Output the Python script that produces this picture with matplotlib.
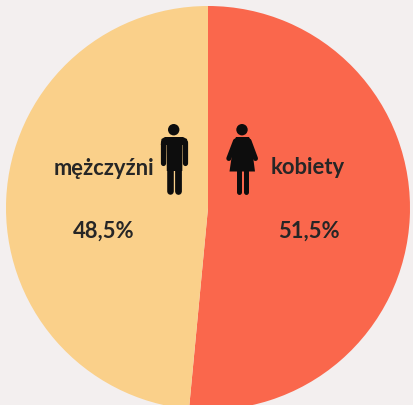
import matplotlib
matplotlib.use('Agg')
import matplotlib.pyplot as plt
from matplotlib.patches import Circle, Polygon

# Data
labels = ["kobiety", "mężczyźni"]
values = [51.5, 48.5]
value_labels = ["51,5%", "48,5%"]
colors = ["#FA674C", "#FAD08A"]

BG_COLOR = "#F3EFEF"
ICON = "#0D0D0D"
TEXT = "#262626"

W, H = 414, 406
plt.rcParams['font.family'] = ['Lato', 'DejaVu Sans']
fig = plt.figure(figsize=(W / 100, H / 100), dpi=100, facecolor=BG_COLOR)

# pie axes, sized in pixels
cx, cy, r = 208, 209, 202
ax = fig.add_axes([(cx - r) / W, 1 - (cy + r) / H, 2 * r / W, 2 * r / H])
ax.pie(values, colors=colors, startangle=90, counterclock=False, radius=1)
ax.set_xlim(-1, 1)
ax.set_ylim(-1, 1)

# overlay in pixel coordinates
ov = fig.add_axes([0, 0, 1, 1])
ov.set_xlim(0, W)
ov.set_ylim(H, 0)
ov.axis('off')

FS = 15.8
ov.text(103.5, 168.5, labels[1], ha='center', va='center', fontsize=FS, fontweight='bold', color=TEXT)
ov.text(307.5, 168, labels[0], ha='center', va='center', fontsize=FS, fontweight='bold', color=TEXT)
ov.text(103.5, 231, value_labels[1], ha='center', va='center', fontsize=FS, fontweight='bold', color=TEXT)
ov.text(308.5, 231, value_labels[0], ha='center', va='center', fontsize=FS, fontweight='bold', color=TEXT)


def limb(x0, y0, x1, y1, w):
    ov.plot([x0, x1], [y0, y1], color=ICON, lw=w * 0.72, solid_capstyle='round')


# man icon
ov.add_patch(Circle((173.7, 130.7), 5.7, color=ICON, lw=0))
ov.add_patch(Polygon([(165, 138), (183, 138), (187, 140), (188, 146), (182.5, 146), (182.3, 172),
                      (166.8, 172), (166.5, 146), (160.8, 146), (161.5, 140)], color=ICON, lw=0))
limb(163.4, 143, 163.4, 163.5, 5.2)
limb(185.2, 143, 185.2, 163.5, 5.2)
limb(170, 170, 170, 191.8, 6.6)
limb(178.2, 170, 178.2, 191.8, 6.8)

# woman icon
ov.add_patch(Circle((242, 130.7), 5.7, color=ICON, lw=0))
ov.add_patch(Polygon([(236, 138), (249, 138), (251, 142), (255, 172.5), (229.5, 172.5), (234, 142)],
                     color=ICON, lw=0))
limb(235.5, 142, 228.8, 159.5, 5)
limb(249, 142, 255.5, 159.5, 5)
limb(238.8, 172, 238.8, 192.5, 5)
limb(246.2, 172, 246.2, 192.5, 5)

fig.savefig("out.png", dpi=100, facecolor=BG_COLOR)
